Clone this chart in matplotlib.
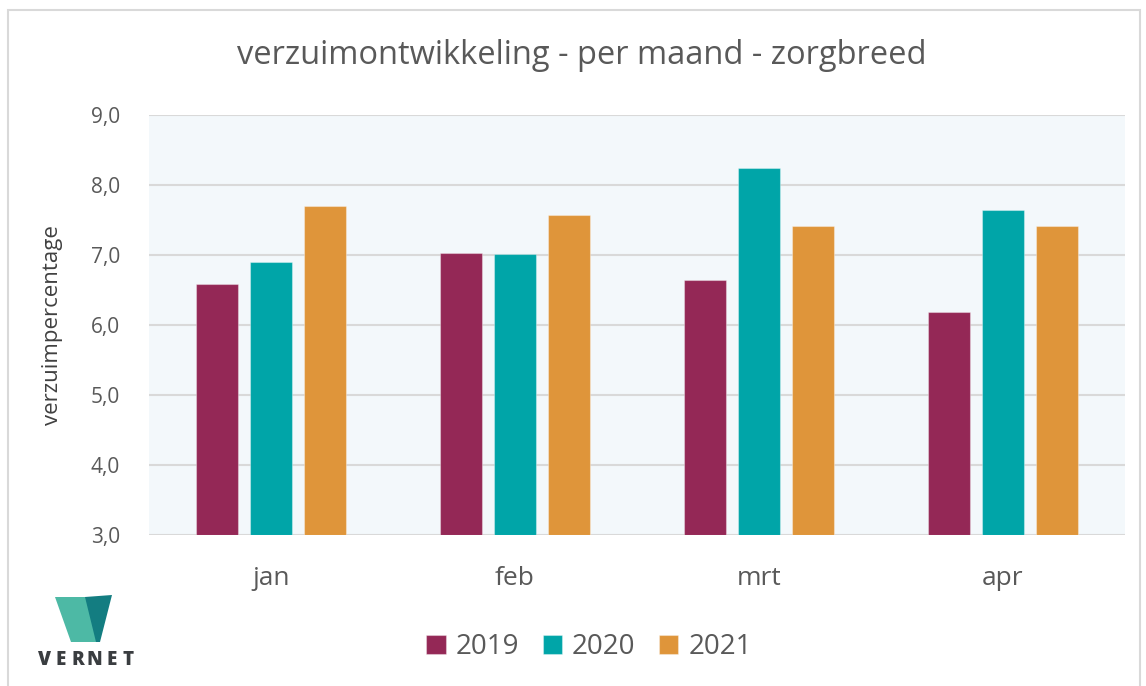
import numpy as np
import matplotlib
matplotlib.use("Agg")
from matplotlib import pyplot as plt
from matplotlib.patches import Polygon, Rectangle

# gegevens
maanden = ["jan", "feb", "mrt", "apr"]
jaren = ["2019", "2020", "2021"]
v2019 = [6.58, 7.03, 6.64, 6.18]
v2020 = [6.90, 7.01, 8.24, 7.64]
v2021 = [7.70, 7.57, 7.41, 7.41]
kleuren = ["#942856", "#00A5A8", "#DF953A"]
yticks = [3.0, 4.0, 5.0, 6.0, 7.0, 8.0, 9.0]

plt.rcParams['font.family'] = ['Open Sans', 'DejaVu Sans']
grijs = "#595959"

fig = plt.figure(figsize=(11.46, 6.86), dpi=100)
ax = fig.add_axes([149 / 1146, 1 - 535 / 686, 976 / 1146, 420 / 686])
ax.set_facecolor("#F3F8FB")

x = np.arange(len(maanden))
breedte = 0.172
stap = 0.221
for i, (reeks, kleur, jaar) in enumerate(zip([v2019, v2020, v2021], kleuren, jaren)):
    ax.bar(x + (i - 1) * stap, [v - 3.0 for v in reeks], bottom=3.0, width=breedte,
           color=kleur, edgecolor=(1, 1, 1, 0.35), linewidth=0.8, label=jaar, zorder=3)

ax.set_xlim(-0.5, len(maanden) - 0.5)
ax.set_ylim(3.0, 9.0)
ax.set_yticks(yticks)
ax.set_yticklabels([f"{t:.1f}".replace(".", ",") for t in yticks])
ax.set_xticks(x)
ax.set_xticklabels(maanden)
ax.yaxis.grid(True, color="#D9D9D9", linewidth=1.5, zorder=0)
ax.set_axisbelow(True)
for s in ax.spines.values():
    s.set_visible(False)
ax.tick_params(axis='y', length=0, pad=21, labelsize=15, labelcolor=grijs)
ax.tick_params(axis='x', length=0, pad=22, labelsize=19, labelcolor=grijs)

ax.set_ylabel("verzuimpercentage", fontsize=16, color="#404040", labelpad=20)

fig.text(0.508, 1 - 56 / 686, "verzuimontwikkeling - per maand - zorgbreed",
         ha="center", va="center", fontsize=23.5, color=grijs)

leg = fig.legend(loc="center", bbox_to_anchor=(0.514, 1 - 647 / 686), ncol=3,
                 frameon=False, fontsize=20, handlelength=0.7, handleheight=0.7,
                 handletextpad=0.35, columnspacing=0.85)
for t in leg.get_texts():
    t.set_color(grijs)

# kader
fig.patches.append(Rectangle((8 / 1146, -0.01), 1132 / 1146, 1 - 10 / 686 + 0.01,
                             transform=fig.transFigure, fill=False,
                             edgecolor="#D9D9D9", linewidth=1.5))

# logo
def px(p):
    return (p[0] / 1146, 1 - p[1] / 686)

licht = [px(p) for p in [(55, 597), (86, 597), (98, 642), (71, 642)]]
donker = [px(p) for p in [(85, 597), (112, 595), (100, 642), (96, 642)]]
fig.patches.append(Polygon(licht, closed=True, transform=fig.transFigure,
                           facecolor="#4DB9A5", edgecolor="none"))
fig.patches.append(Polygon(donker, closed=True, transform=fig.transFigure,
                           facecolor="#137D81", edgecolor="none"))
for k, letter in enumerate("VERNET"):
    fig.text((44 + k * 16.8) / 1146, 1 - 660 / 686, letter, ha="center", va="center",
             fontsize=13.5, fontweight="heavy", color="#3A3D40")

fig.savefig("out.png", dpi=100)
